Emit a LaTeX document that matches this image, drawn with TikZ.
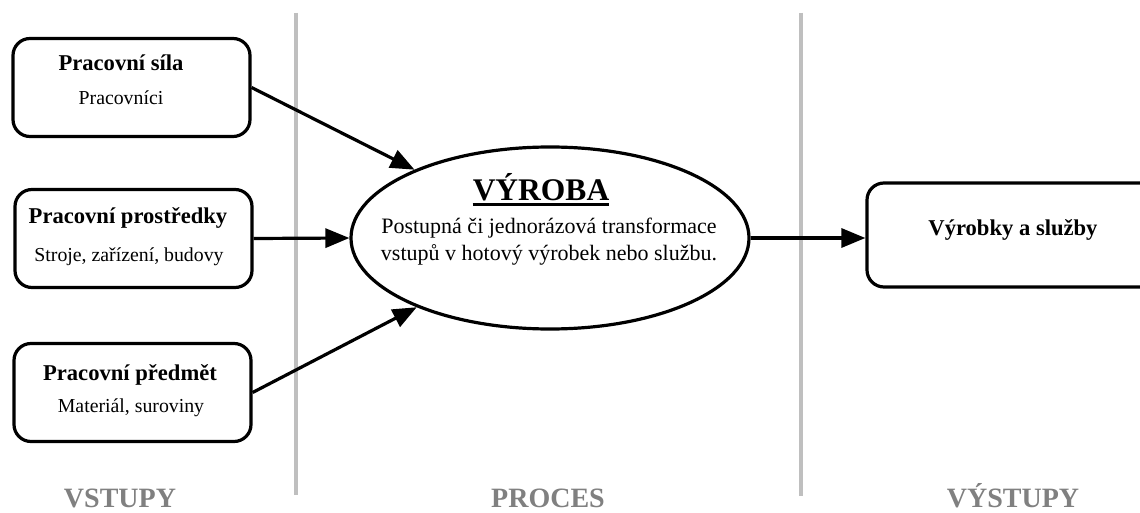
\documentclass[tikz,border=0pt]{standalone}
\usepackage{fontspec}
\setmainfont{Liberation Serif}
\usetikzlibrary{arrows.meta,shapes.geometric}
\tikzset{
  inbox/.style={draw,line width=3.2pt,rounded corners=17pt,minimum width=237pt,minimum height=98pt,inner sep=0pt},
  conn/.style={line width=3.2pt,-{Triangle[length=24pt,width=19pt]}},
  sep/.style={draw=black!25,line width=4pt},
  ttl/.style={font=\fontsize{22.6}{24}\selectfont\bfseries,inner sep=0pt},
  sub/.style={font=\fontsize{19.8}{21}\selectfont,inner sep=0pt},
  lbl/.style={text=black!50,font=\fontsize{28}{28}\selectfont\bfseries,inner sep=0pt,anchor=base}
}
\begin{document}
\begin{tikzpicture}[x=1pt,y=-1pt]
\useasboundingbox[fill=white] (0,0) rectangle (1140,513);
% separators
\draw[sep] (296,13) -- (296,495);
\draw[sep] (801,13) -- (801,496);
% input boxes
\node[inbox] (b1) at (131.5,87.5) {};
\node[inbox] (b2) at (133.5,238.5) {};
\node[inbox] (b3) at (132.5,392.5) {};
\node[ttl] (t1) at (121,63) {Pracovní síla};
\node[sub] (s1) at (121,98) {Pracovníci};
\node[ttl] (t2) at (128,218) {Pracovní prostředky};
\node[sub] (s2) at (129,257) {Stroje, zařízení, budovy};
\node[ttl] (t3) at (130,375) {Pracovní předmět};
\node[sub] (s3) at (131,408) {Materiál, suroviny};
% process ellipse
\node[draw,ellipse,line width=3.2pt,minimum width=398pt,minimum height=182pt,inner sep=0pt] (yv) at (550,238) {};
\node[font=\fontsize{31.5}{31.5}\selectfont\bfseries,inner sep=0pt] (vt) at (541,187) {VÝROBA};
\draw[line width=2.5pt] ([yshift=-4pt]vt.base west) -- ([yshift=-4pt]vt.base east);
\node[font=\fontsize{22}{27}\selectfont,align=center,inner sep=0pt] (vd) at (549,242) {Postupná či jednorázová transformace\\vstupů v hotový výrobek nebo službu.};
% output box
\node[inbox,minimum width=296pt,minimum height=104pt] (b4) at (1015,235) {};
\node[ttl] (t4) at (1013,230) {Výrobky a služby};
% connectors
\draw[conn] (b1.east) -- (yv);
\draw[conn] (b2.east) -- (yv.west);
\draw[conn] (b3.east) -- (yv);
\draw[conn] (yv.east) -- (yv.east -| b4.west);
% column labels
\node[lbl] (l1) at (120,507) {VSTUPY};
\node[lbl] (l2) at (548,507) {PROCES};
\node[lbl] (l3) at (1013,507) {VÝSTUPY};
\end{tikzpicture}
\end{document}
